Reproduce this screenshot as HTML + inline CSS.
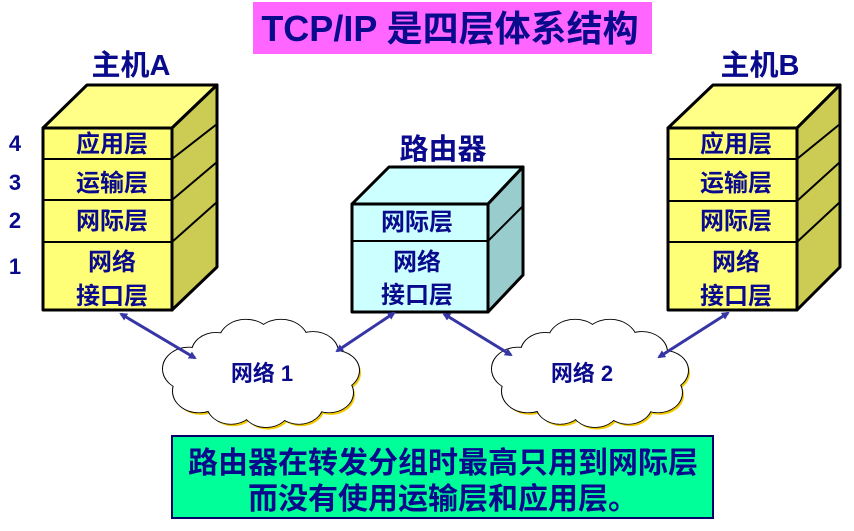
<!DOCTYPE html>
<html><head><meta charset="utf-8"><style>
html,body{margin:0;padding:0;background:#fff;}
svg text{font-family:"Liberation Sans","Noto Sans CJK SC",sans-serif;font-weight:bold;fill:#0a0a8c;}
</style></head><body>
<svg width="854" height="526" viewBox="0 0 854 526" xmlns="http://www.w3.org/2000/svg">
<defs>
<marker id="ah" markerWidth="8" markerHeight="8" refX="6" refY="4" orient="auto-start-reverse" markerUnits="userSpaceOnUse" viewBox="0 0 8 8">
<path d="M0,0 L8,4 L0,8 z" fill="#3535a5"/></marker>
<g id="cc">
<circle cx="-72" cy="-5" r="26"/><circle cx="-62" cy="22" r="26"/><circle cx="-45" cy="-25" r="24"/><circle cx="-15" cy="-38" r="27"/><circle cx="20" cy="-38" r="27"/><circle cx="52" cy="-25" r="25"/><circle cx="74" cy="-3" r="24"/><circle cx="68" cy="24" r="24"/><circle cx="38" cy="38" r="24"/><circle cx="5" cy="42" r="24"/><circle cx="-30" cy="38" r="24"/><circle cx="0" cy="0" r="50"/><circle cx="50" cy="5" r="20"/><circle cx="-50" cy="5" r="20"/>
</g>
<g id="cloud">
<g fill="#f2c800" transform="translate(2,3)"><use href="#cc"/></g>
<g fill="#fff" stroke="#000" stroke-width="2"><use href="#cc"/></g>
<g fill="#fff"><use href="#cc"/></g>
</g>
</defs>

<rect x="253" y="2" width="399" height="52" fill="#ff66ff"/>
<text x="450" y="41" font-size="36" text-anchor="middle">TCP/IP 是四层体系结构</text>

<text x="131" y="75" font-size="29" text-anchor="middle">主机A</text>
<text x="760" y="75" font-size="29" text-anchor="middle">主机B</text>
<text x="443" y="159" font-size="29" text-anchor="middle">路由器</text>

<g font-size="22" text-anchor="middle">
<text x="15" y="151">4</text><text x="15" y="190">3</text><text x="15" y="228">2</text><text x="15" y="274">1</text>
</g>

<g stroke="#000" stroke-width="3" stroke-linejoin="round">
<polygon points="43,128 87,85 217,85 172,128" fill="#ffff88"/>
<polygon points="172,128 217,85 217,267 172,310" fill="#cccc55"/>
<rect x="43" y="128" width="129" height="182" fill="#ffff77"/>
</g>
<g stroke="#000" stroke-width="2">
<line x1="43" y1="159" x2="172" y2="159"/><line x1="43" y1="200" x2="172" y2="200"/><line x1="43" y1="242" x2="172" y2="242"/>
<line x1="172" y1="159" x2="217" y2="124"/><line x1="172" y1="200" x2="217" y2="162"/><line x1="172" y1="242" x2="217" y2="202"/>
</g>
<g font-size="24" text-anchor="middle">
<text x="112" y="152">应用层</text><text x="112" y="191">运输层</text><text x="112" y="229">网际层</text><text x="112" y="270">网络</text><text x="112" y="304">接口层</text>
</g>

<g stroke="#000" stroke-width="3" stroke-linejoin="round">
<polygon points="668,128 713,85 840,85 797,128" fill="#ffff88"/>
<polygon points="797,128 840,85 840,267 797,310" fill="#cccc55"/>
<rect x="668" y="128" width="129" height="182" fill="#ffff77"/>
</g>
<g stroke="#000" stroke-width="2">
<line x1="668" y1="159" x2="797" y2="159"/><line x1="668" y1="201" x2="797" y2="201"/><line x1="668" y1="242" x2="797" y2="242"/>
<line x1="797" y1="159" x2="840" y2="124"/><line x1="797" y1="201" x2="840" y2="162"/><line x1="797" y1="242" x2="840" y2="202"/>
</g>
<g font-size="24" text-anchor="middle">
<text x="736" y="152">应用层</text><text x="736" y="191">运输层</text><text x="736" y="229">网际层</text><text x="736" y="270">网络</text><text x="736" y="304">接口层</text>
</g>

<g stroke="#000" stroke-width="3" stroke-linejoin="round">
<polygon points="352,204 389,167 523,167 488,204" fill="#ccffff"/>
<polygon points="488,204 523,167 523,275 488,312" fill="#99cccc"/>
<rect x="352" y="204" width="136" height="108" fill="#ccffff"/>
</g>
<g stroke="#000" stroke-width="2">
<line x1="352" y1="241" x2="488" y2="241"/><line x1="488" y1="241" x2="523" y2="206"/>
</g>
<g font-size="24" text-anchor="middle">
<text x="417" y="230">网际层</text><text x="417" y="270">网络</text><text x="417" y="303">接口层</text>
</g>

<use href="#cloud" transform="translate(261,373) scale(1.0,0.82)"/>
<use href="#cloud" transform="translate(590,373) scale(1.0,0.82)"/>
<text x="262" y="381" font-size="22" text-anchor="middle">网络 1</text>
<text x="582" y="381" font-size="22" text-anchor="middle">网络 2</text>

<g stroke="#3535a5" stroke-width="3" marker-start="url(#ah)" marker-end="url(#ah)">
<line x1="121" y1="314" x2="195" y2="358"/>
<line x1="394" y1="313" x2="337" y2="351"/>
<line x1="444" y1="314" x2="511" y2="355"/>
<line x1="728" y1="313" x2="659" y2="357"/>
</g>

<rect x="172" y="436" width="541" height="82" fill="#00ff99" stroke="#000066" stroke-width="2"/>
<text x="443" y="473" font-size="30" text-anchor="middle">路由器在转发分组时最高只用到网际层</text>
<text x="443" y="509" font-size="30" text-anchor="middle">而没有使用运输层和应用层。</text>
</svg>
</body></html>
